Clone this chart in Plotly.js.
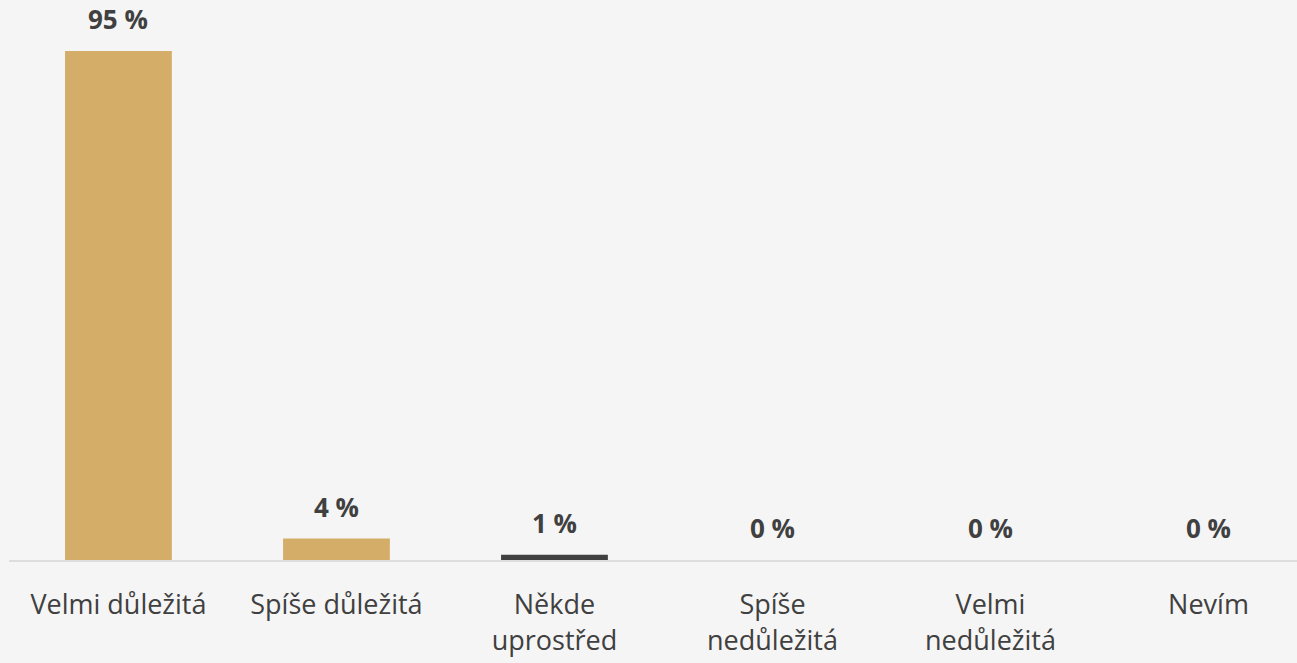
<!DOCTYPE html>
<html>
<head>
<meta charset="utf-8">
<script src="https://cdn.plot.ly/plotly-3.0.1.min.js"></script>
<style>
  html, body { margin: 0; padding: 0; background: #f5f5f5; }
  #chart { width: 1297px; height: 663px; }
</style>
</head>
<body>
<div id="chart"></div>
<script>
var categories = ["Velmi důležitá", "Spíše důležitá", "Někde<br>uprostřed", "Spíše<br>nedůležitá", "Velmi<br>nedůležitá", "Nevím"];
var values = [95, 4, 1, 0, 0, 0];
var labels = ["95 %", "4 %", "1 %", "0 %", "0 %", "0 %"];
var barColors = ["#d4ae68", "#d4ae68", "#404040", "#d4ae68", "#d4ae68", "#d4ae68"];

var positions = categories.map(function(c, i) { return i; });

var data = [{
    type: 'bar',
    x: positions,
    y: values,
    width: 0.49,
    marker: { color: barColors },
    hoverinfo: 'none'
}];

var annotations = values.map(function(v, i) {
    return {
        x: i,
        y: v,
        text: '<b>' + labels[i] + '</b>',
        showarrow: false,
        yanchor: 'bottom',
        yshift: 13,
        borderpad: 0,
        font: { family: 'Open Sans, sans-serif', size: 26, color: '#404040' }
    };
});

var layout = {
    width: 1297,
    height: 663,
    margin: { l: 9, r: 0, t: 0, b: 103 },
    paper_bgcolor: '#f5f5f5',
    plot_bgcolor: '#f5f5f5',
    showlegend: false,
    xaxis: {
        range: [-0.502, 5.406],
        tickmode: 'array',
        tickvals: positions,
        ticktext: categories,
        ticks: 'outside',
        ticklen: 20,
        tickcolor: 'rgba(0,0,0,0)',
        showline: true,
        linecolor: '#dddddd',
        linewidth: 2,
        showgrid: false,
        zeroline: false,
        tickfont: { family: 'Open Sans, sans-serif', size: 27, color: '#404040' },
        fixedrange: true
    },
    yaxis: {
        range: [0, 104.5],
        visible: false,
        showgrid: false,
        zeroline: false,
        fixedrange: true
    },
    annotations: annotations
};

Plotly.newPlot('chart', data, layout, { displayModeBar: false, staticPlot: true });
</script>
</body>
</html>
